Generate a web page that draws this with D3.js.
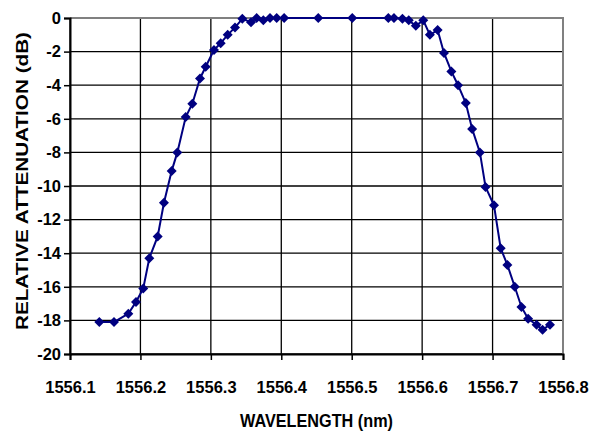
<!DOCTYPE html>
<html><head><meta charset="utf-8">
<script src="https://cdn.jsdelivr.net/npm/d3@7"></script>
<style>body{margin:0;background:#fff}svg{display:block}</style>
</head><body>
<svg id="c" width="594" height="432"></svg>
<script>
const wavelength = [1556.1416,1556.1625,1556.1828,1556.1937,1556.2040,1556.2126,1556.2245,1556.2334,1556.2444,1556.2524,1556.2643,1556.2737,1556.2846,1556.2927,1556.3045,1556.3140,1556.3239,1556.3343,1556.3447,1556.3570,1556.3650,1556.3745,1556.3840,1556.3935,1556.4040,1556.4525,1556.5008,1556.5520,1556.5600,1556.5720,1556.5810,1556.5910,1556.6016,1556.6110,1556.6220,1556.6310,1556.6415,1556.6510,1556.6620,1556.6710,1556.6820,1556.6900,1556.7020,1556.7115,1556.7210,1556.7315,1556.7410,1556.7505,1556.7625,1556.7710,1556.7815];
const attenuation = [-18.1,-18.1,-17.6,-16.9,-16.1,-14.3,-13.0,-11.0,-9.1,-8.0,-5.9,-5.1,-3.6,-2.9,-1.9,-1.5,-1.0,-0.56,-0.05,-0.25,0,-0.14,0,0,0,0,0,0,0,-0.04,-0.14,-0.46,-0.14,-1.0,-0.72,-2.08,-3.18,-4.0,-5.06,-6.6,-8.0,-10.06,-11.15,-13.7,-14.7,-16.0,-17.2,-17.9,-18.26,-18.55,-18.26];
const xTicks = [1556.1,1556.2,1556.3,1556.4,1556.5,1556.6,1556.7,1556.8];
const yTicks = [0,-2,-4,-6,-8,-10,-12,-14,-16,-18,-20];
const xTitle = "WAVELENGTH (nm)";
const yTitle = "RELATIVE ATTENUATION (dB)";

const L=70, R=563, T=18, B=354;
const svg = d3.select("#c");
const x = d3.scaleLinear().domain([1556.1,1556.8]).range([L,R]);
const y = d3.scaleLinear().domain([-20,0]).range([B,T]);
const font = "'Liberation Sans', Arial, sans-serif";

// gridlines
svg.append("g").selectAll("line").data(yTicks).join("line")
  .attr("x1",L).attr("x2",R).attr("y1",d=>y(d)).attr("y2",d=>y(d))
  .attr("stroke","#000").attr("stroke-width",1.3);
svg.append("g").selectAll("line").data(xTicks).join("line")
  .attr("y1",T).attr("y2",B).attr("x1",d=>x(d)).attr("x2",d=>x(d))
  .attr("stroke","#000").attr("stroke-width",1.3);
// plot border top/right grey
svg.append("path").attr("d",`M${L},${T}H${R}V${B}`).attr("fill","none")
  .attr("stroke","#808080").attr("stroke-width",2);

// axes
const xa = svg.append("g").attr("transform",`translate(0,${B})`)
  .call(d3.axisBottom(x).tickValues(xTicks).tickSize(6).tickPadding(21).tickFormat(d3.format(".1f")));
const ya = svg.append("g").attr("transform",`translate(${L},0)`)
  .call(d3.axisLeft(y).tickValues(yTicks).tickSize(6).tickPadding(3).tickFormat(d=>d===0?"0":String(d)));
[xa,ya].forEach(a=>{
  a.select(".domain").attr("stroke","#000").attr("stroke-width",2);
  a.selectAll(".tick line").attr("stroke","#000").attr("stroke-width",1.5);
  a.selectAll("text").attr("font-family",font).attr("font-weight","bold")
   .attr("font-size",16.5).attr("fill","#000");
});

// line + markers
const pts = wavelength.map((w,i)=>[w,attenuation[i]]);
svg.append("path").datum(pts)
  .attr("d",d3.line().x(d=>x(d[0])).y(d=>y(d[1])))
  .attr("fill","none").attr("stroke","#000080").attr("stroke-width",2);
svg.append("g").selectAll("path").data(pts).join("path")
  .attr("transform",d=>`translate(${x(d[0])},${y(d[1])})`)
  .attr("d","M0,-5L5,0L0,5L-5,0Z").attr("fill","#000080");

// titles
svg.append("text").attr("x",316.5).attr("y",427).attr("text-anchor","middle")
  .attr("font-family",font).attr("font-weight","bold").attr("font-size",18)
  .attr("textLength",153).attr("lengthAdjust","spacingAndGlyphs").text(xTitle);
svg.append("text").attr("transform",`translate(28,181) rotate(-90)`)
  .attr("text-anchor","middle")
  .attr("font-family",font).attr("font-weight","bold").attr("font-size",16.5)
  .attr("textLength",298).attr("lengthAdjust","spacingAndGlyphs").text(yTitle);
</script>
</body></html>
